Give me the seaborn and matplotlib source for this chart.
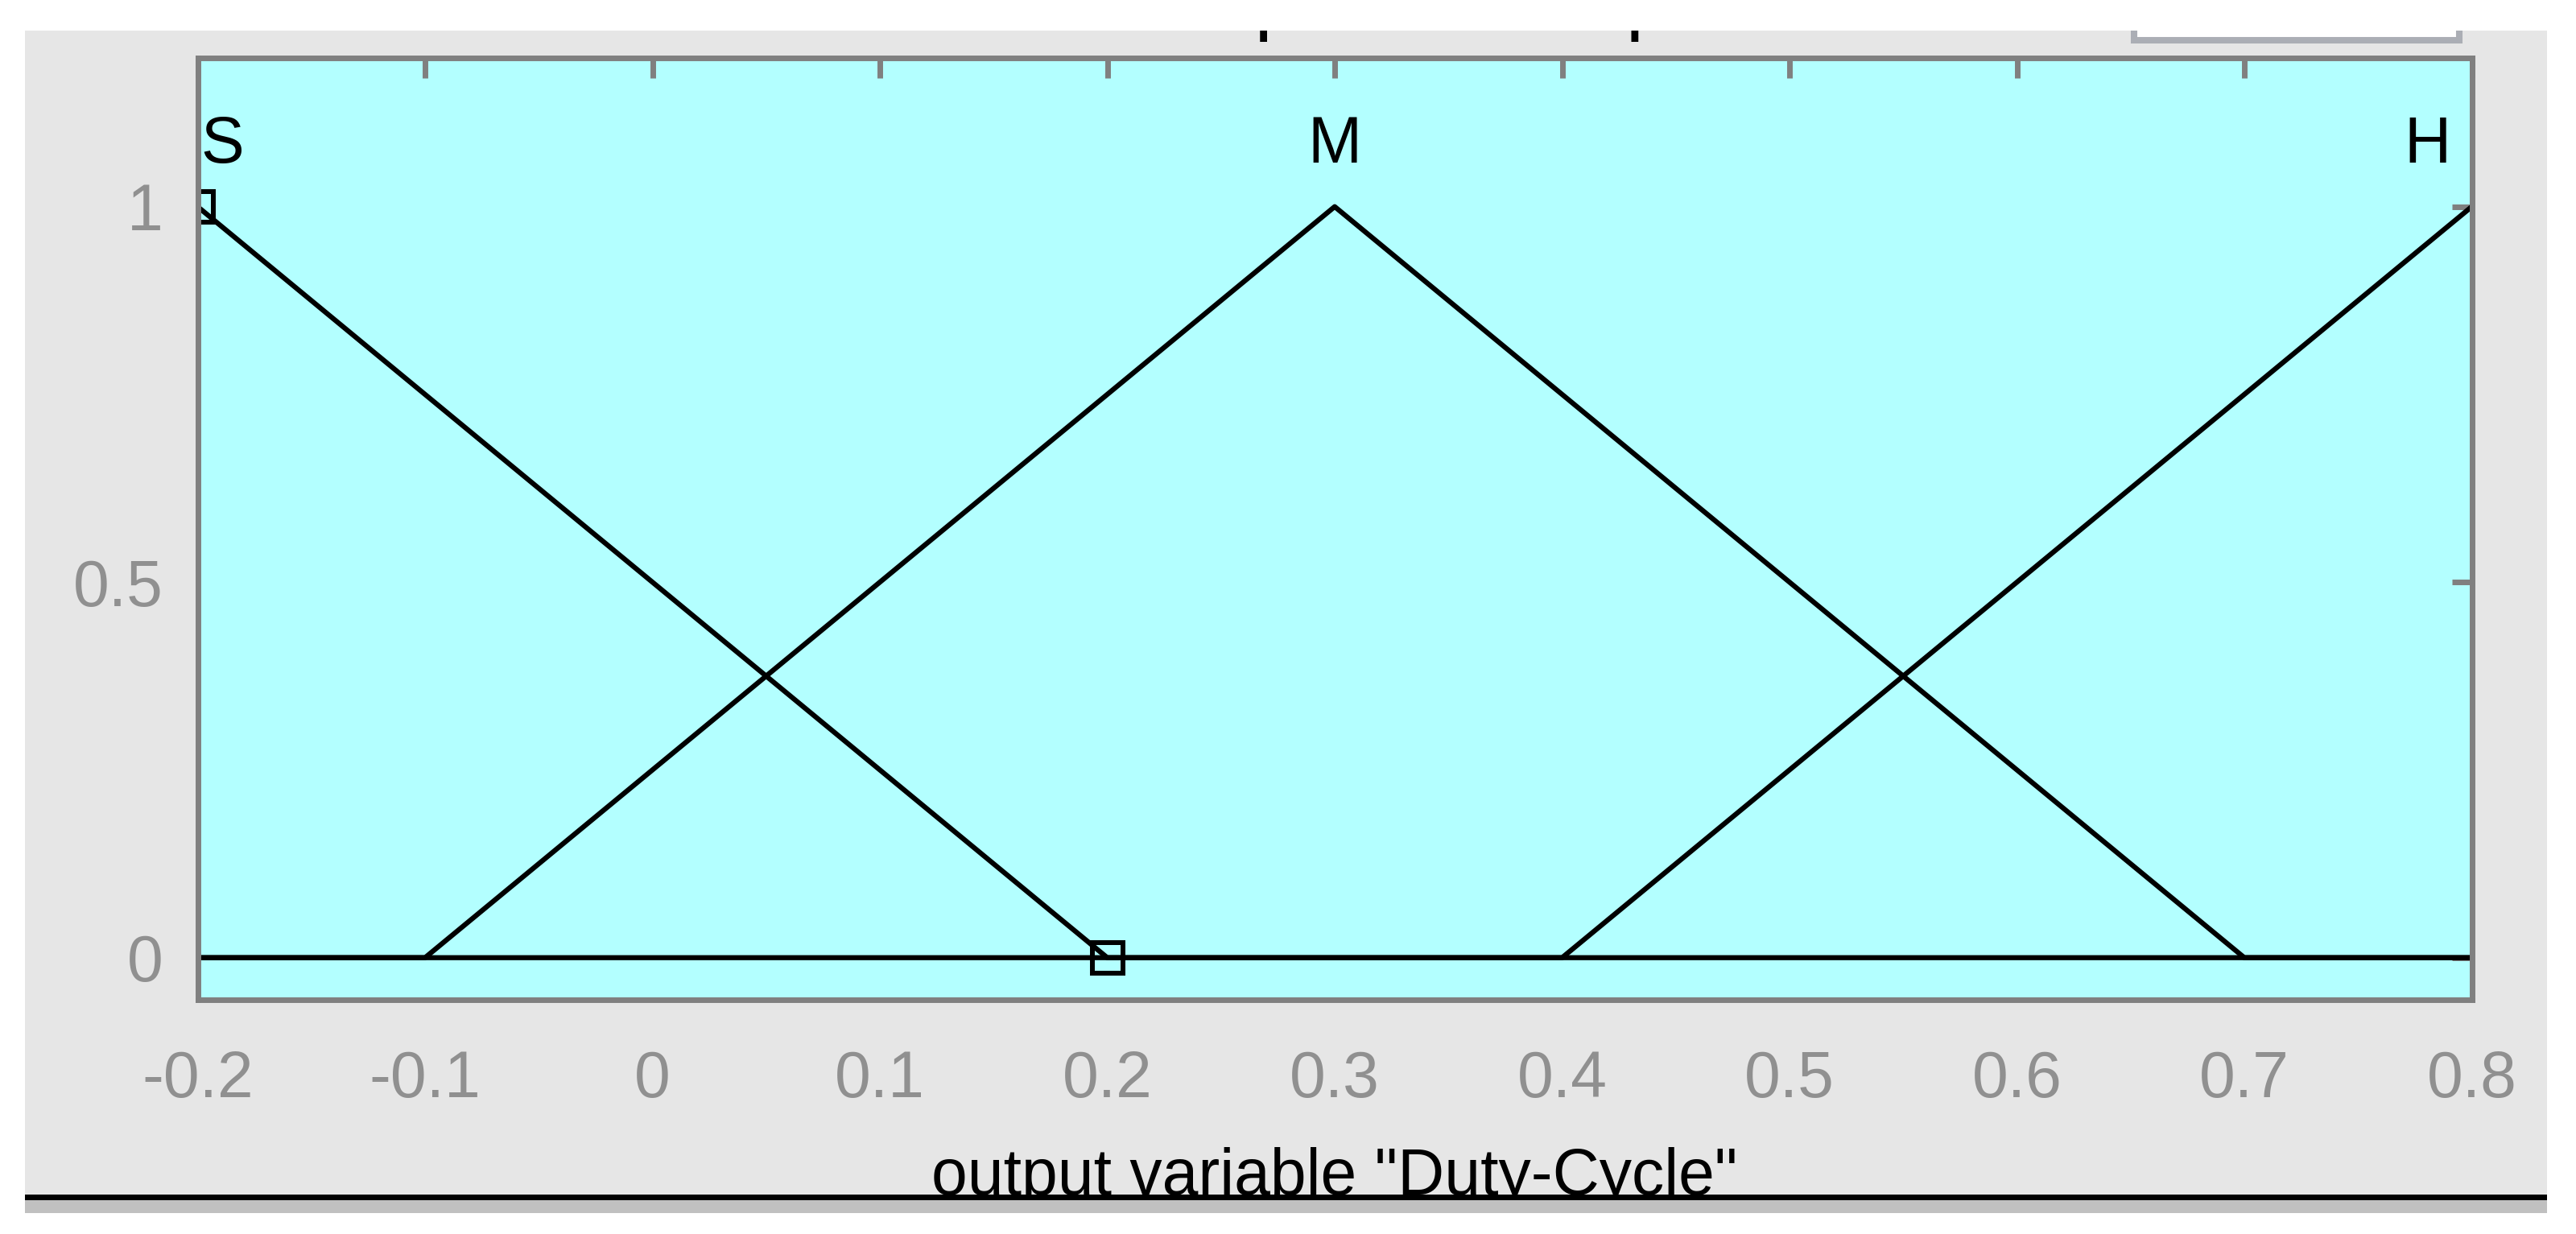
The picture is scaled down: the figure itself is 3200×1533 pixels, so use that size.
import matplotlib
matplotlib.use('Agg')
import matplotlib.pyplot as plt
import seaborn as sns
from matplotlib.patches import Rectangle

# membership functions of output "Duty-Cycle" (vertices)
S_x = [-0.2, 0.2, 0.8]
S_y = [1, 0, 0]
M_x = [-0.2, -0.1, 0.3, 0.7, 0.8]
M_y = [0, 0, 1, 0, 0]
H_x = [-0.2, 0.4, 0.8]
H_y = [0, 0, 1]
mf_names = ['S', 'M', 'H']
mf_peaks = [-0.2, 0.3, 0.8]

x_ticks = [-0.2, -0.1, 0, 0.1, 0.2, 0.3, 0.4, 0.5, 0.6, 0.7, 0.8]
x_tick_labels = ['-0.2', '-0.1', '0', '0.1', '0.2', '0.3', '0.4', '0.5', '0.6', '0.7', '0.8']
y_ticks = [0, 0.5, 1]
y_tick_labels = ['0', '0.5', '1']

sns.set_style('white')
plt.rcParams['font.family'] = ['Liberation Sans', 'DejaVu Sans']

W, H = 3200, 1533
fig = plt.figure(figsize=(32, 15.33), dpi=100)
fig.patch.set_facecolor('white')


def fy(px):
    # pixel row from top -> figure fraction
    return 1 - px / H


# grey window panel
fig.add_artist(Rectangle((31 / W, fy(1484)), (3164 - 31) / W, (1484 - 38) / H,
                         transform=fig.transFigure, facecolor='#e6e6e6', edgecolor='none', zorder=-1))

ax = fig.add_axes([245.5 / W, fy(1241.5), 2825 / W, (1241.5 - 72) / H])
ax.set_facecolor('#b3ffff')

lw = 4.5
sns.lineplot(x=S_x, y=S_y, color='black', lw=lw, ax=ax, estimator=None, sort=False)
sns.lineplot(x=M_x, y=M_y, color='black', lw=lw, ax=ax, estimator=None, sort=False)
sns.lineplot(x=H_x, y=H_y, color='black', lw=lw, ax=ax, estimator=None, sort=False)
# selected MF vertices
ax.plot(S_x[:2], S_y[:2], ls='none', marker='s', ms=28, mfc='none', mec='black', mew=4.3)

# MF names
offsets = [(4, 0), (0, 0), (-26, 0)]
aligns = ['left', 'center', 'right']
for name, px, off, ha in zip(mf_names, mf_peaks, offsets, aligns):
    ax.annotate(name, xy=(px, 1.059), xytext=off, textcoords='offset pixels',
                ha=ha, va='baseline', fontsize=58, color='black')

ax.set_xlim(-0.2, 0.8)
ax.set_ylim(-0.0555, 1.198)
ax.set_xticks(x_ticks)
ax.set_xticklabels(x_tick_labels)
ax.set_yticks(y_ticks)
ax.set_yticklabels(y_tick_labels)
ax.tick_params(axis='both', direction='in', length=18, width=5, color='#808080',
               labelcolor='#909090', labelsize=58, top=True, right=True)
ax.tick_params(axis='x', pad=45)
ax.tick_params(axis='y', pad=31)
for sp in ax.spines.values():
    sp.set_color('#808080')
    sp.set_linewidth(5)

ax.set_xlabel('output variable "Duty-Cycle"', fontsize=58, color='black')
ax.xaxis.label.set_va('baseline')
ax.xaxis.set_label_coords(0.5, -(1484 - 1241.5) / (1241.5 - 72))
ax.set_ylabel('')

# cropped header: title and plot-points box
fig.text(1647 / W, fy(31), 'membership function plots', ha='center', va='baseline',
         fontsize=72, color='black')
fig.add_artist(Rectangle((2651 / W, fy(49.5)), (3055 - 2651) / W, 49.5 / H,
                         transform=fig.transFigure, facecolor='white', edgecolor='#abaeb5',
                         lw=5.8, zorder=5))
fig.add_artist(Rectangle((0, fy(38)), 1, 38 / H, transform=fig.transFigure,
                         facecolor='white', edgecolor='none', zorder=10))

# bottom edge of the window
fig.add_artist(Rectangle((31 / W, fy(1491)), (3164 - 31) / W, 7 / H,
                         transform=fig.transFigure, facecolor='black', edgecolor='none', zorder=10))
fig.add_artist(Rectangle((31 / W, fy(1507)), (3164 - 31) / W, 16 / H,
                         transform=fig.transFigure, facecolor='#c0c0c0', edgecolor='none', zorder=10))

fig.savefig('out.png', dpi=100)
